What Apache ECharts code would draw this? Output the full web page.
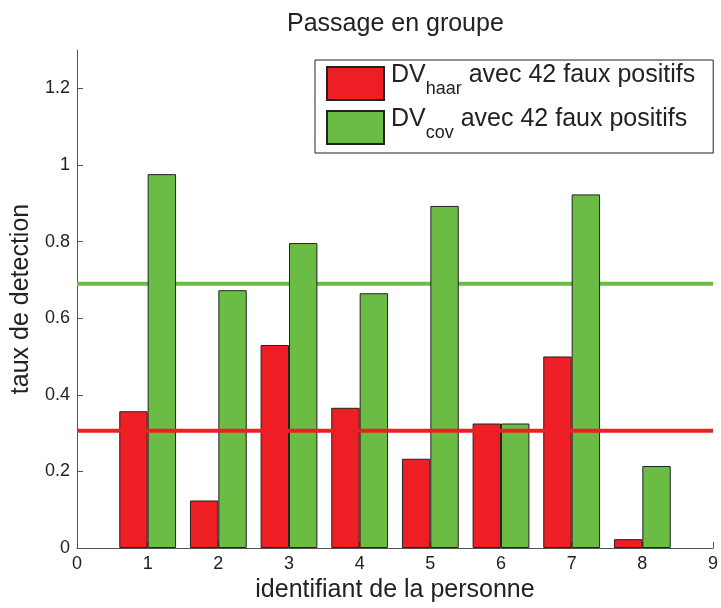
<!DOCTYPE html>
<html>
<head>
<meta charset="utf-8">
<script src="https://cdn.jsdelivr.net/npm/echarts@6/dist/echarts.min.js"></script>
<style>
html,body{margin:0;padding:0;background:#fff;}
#chart{width:721px;height:608px;}
</style>
</head>
<body>
<div id="chart"></div>
<script>
const categories = [1, 2, 3, 4, 5, 6, 7, 8];
const haarValues = [0.357, 0.124, 0.530, 0.366, 0.233, 0.325, 0.500, 0.023];
const covValues = [0.976, 0.673, 0.796, 0.665, 0.893, 0.325, 0.923, 0.214];
const haarMean = 0.306;
const covMean = 0.690;
const yTicks = [0, 0.2, 0.4, 0.6, 0.8, 1, 1.2];
const xRange = [0, 9];
const yRange = [0, 1.3];

const FONT = '"Liberation Sans", Arial, Helvetica, sans-serif';
const RED = '#ed1f24';
const GREEN = '#6bbc45';
const AXIS = '#555';

const chart = echarts.init(document.getElementById('chart'), null, {renderer: 'canvas'});

const gridLeft = 77, gridRight = 5;
const unitPx = (721 - gridLeft - gridRight) / (xRange[1] - xRange[0]);
const barW = 0.4 * unitPx;

const option = {
  backgroundColor: '#fff',
  animation: false,
  textStyle: {fontFamily: FONT},
  title: {
    text: 'Passage en groupe',
    left: 287, top: 12, padding: 0,
    textStyle: {fontFamily: FONT, fontSize: 25, fontWeight: 'normal', color: '#222'}
  },
  grid: {left: gridLeft, right: gridRight, top: 50, bottom: 54, containLabel: false},
  legend: {
    orient: 'vertical',
    left: 315, top: 60,
    padding: [3, 18, 5, 11],
    itemGap: 3,
    itemWidth: 57, itemHeight: 33,
    icon: 'rect',
    borderColor: '#222', borderWidth: 1,
    backgroundColor: '#fff',
    data: ['haar', 'cov'],
    formatter: function (name) {
      return '{d|DV}{s|' + name + '}{m| avec 42 faux positifs}';
    },
    textStyle: {
      fontFamily: FONT, color: '#222',
      rich: {
        d: {fontFamily: FONT, fontSize: 25, lineHeight: 20, verticalAlign: 'middle', padding: [0, 0, 16, 2], color: '#222'},
        m: {fontFamily: FONT, fontSize: 25, lineHeight: 20, verticalAlign: 'middle', padding: [0, 0, 16, 0], color: '#222'},
        s: {fontFamily: FONT, fontSize: 18, lineHeight: 16, verticalAlign: 'middle', padding: [12, 0, 0, 0], color: '#222'}
      }
    }
  },
  xAxis: {
    type: 'value', min: xRange[0], max: xRange[1], interval: 1,
    splitLine: {show: false},
    axisLine: {show: true, onZero: false, lineStyle: {color: AXIS, width: 1}},
    axisTick: {show: true, inside: true, length: 6, lineStyle: {color: AXIS}},
    axisLabel: {fontFamily: FONT, fontSize: 18, color: '#222', margin: 7},
    name: 'identifiant de la personne',
    nameLocation: 'middle', nameGap: 30,
    nameTextStyle: {fontFamily: FONT, fontSize: 25, color: '#222'}
  },
  yAxis: {
    type: 'value', min: yRange[0], max: yRange[1],
    splitLine: {show: false},
    axisLine: {show: true, lineStyle: {color: AXIS, width: 1}},
    axisTick: {show: true, inside: true, length: 6, lineStyle: {color: AXIS}, customValues: yTicks},
    axisLabel: {fontFamily: FONT, fontSize: 18, color: '#222', margin: 7, customValues: yTicks},
    name: 'taux de detection',
    nameLocation: 'middle', nameGap: 36,
    nameTextStyle: {fontFamily: FONT, fontSize: 25, color: '#222'}
  },
  series: [
    {
      name: 'haar', type: 'bar', z: 2,
      barWidth: barW, barGap: '0%',
      itemStyle: {color: RED, borderColor: '#222', borderWidth: 1},
      data: categories.map((c, i) => [c, haarValues[i]])
    },
    {
      name: 'cov', type: 'bar', z: 2,
      barWidth: barW, barGap: '0%',
      itemStyle: {color: GREEN, borderColor: '#222', borderWidth: 1},
      data: categories.map((c, i) => [c, covValues[i]])
    },
    {
      name: 'moyenne haar', type: 'line', z: 5, symbol: 'none', silent: true,
      lineStyle: {color: RED, width: 4},
      data: [[xRange[0], haarMean], [xRange[1], haarMean]]
    },
    {
      name: 'moyenne cov', type: 'line', z: 1, symbol: 'none', silent: true,
      lineStyle: {color: GREEN, width: 4},
      data: [[xRange[0], covMean], [xRange[1], covMean]]
    }
  ]
};
chart.setOption(option);
</script>
</body>
</html>
